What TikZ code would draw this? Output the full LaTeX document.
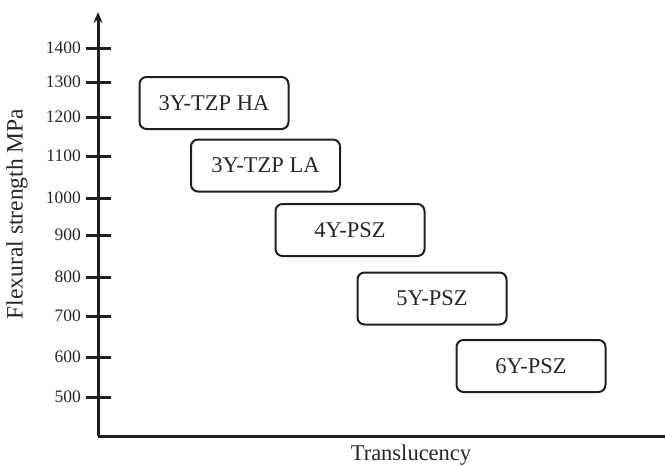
\documentclass[tikz,border=0pt]{standalone}
\usepackage{fontspec}
\setmainfont{Liberation Serif}
\usetikzlibrary{arrows.meta}
\begin{document}
\begin{tikzpicture}[x=1pt,y=-1pt,
  axisline/.style={line width=3pt,color=black!88},
  tickline/.style={line width=3pt,color=black!88},
  ticklabel/.style={anchor=east,font=\fontsize{17.5}{17.5}\selectfont,text=black!85,inner sep=0pt},
  matbox/.style={draw=black!88,line width=2pt,rounded corners=7pt,minimum width=149pt,minimum height=52pt,font=\fontsize{22.5}{22.5}\selectfont,text=black!85,inner sep=0pt}]
\useasboundingbox (0,0) rectangle (665,466);
\coordinate (origin) at (98,436);
\coordinate (ytop) at (98,12);
\coordinate (xend) at (665,436);
\draw[axisline,-{Stealth[length=11pt,width=9pt]}] (origin) -- (ytop);
\draw[axisline] (origin) -- (xend);
\foreach \v/\y in {1400/48,1300/82,1200/117,1100/156,1000/198,900/235,800/277,700/316,600/357,500/397}{
  \coordinate (t\v a) at (86,\y);
  \coordinate (t\v b) at (111,\y);
  \draw[tickline] (t\v a) -- (t\v b);
  \node[ticklabel] (l\v) at (81,\y) {\v};
}
\node[matbox] (b1) at (214,103) {3Y-TZP HA};
\node[matbox] (b2) at (265.5,165.5) {3Y-TZP LA};
\node[matbox] (b3) at (350,230) {4Y-PSZ};
\node[matbox] (b4) at (432,298.5) {5Y-PSZ};
\node[matbox] (b5) at (531,366) {6Y-PSZ};
\node[font=\fontsize{23.5}{23.5}\selectfont,text=black!85,rotate=90] (ylab) at (17,214) {Flexural strength MPa};
\node[font=\fontsize{22.5}{22.5}\selectfont,text=black!85,anchor=base] (xlab) at (411,460) {Translucency};
\end{tikzpicture}
\end{document}
